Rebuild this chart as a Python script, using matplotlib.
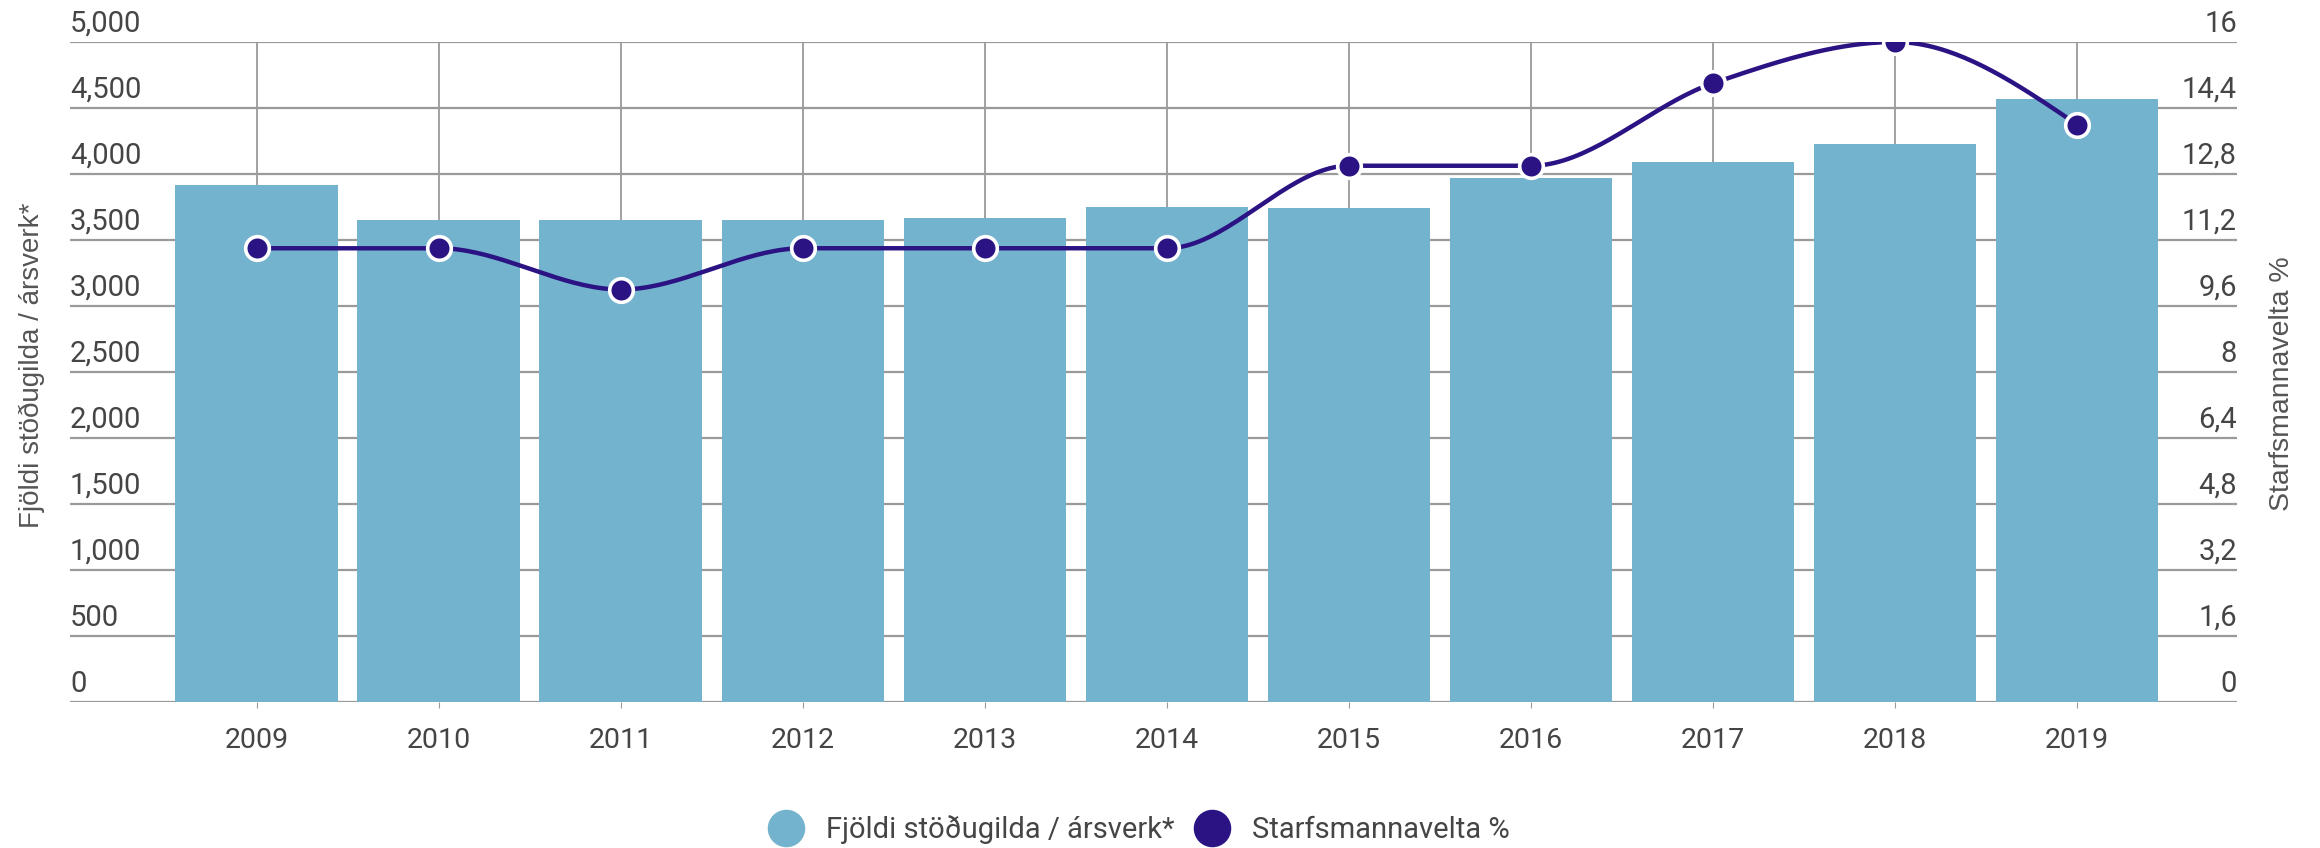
import numpy as np
import matplotlib
matplotlib.use("Agg")
import matplotlib.pyplot as plt
from matplotlib.lines import Line2D
from matplotlib.transforms import blended_transform_factory, offset_copy

# ---- data ----
years = ["2009", "2010", "2011", "2012", "2013", "2014", "2015", "2016", "2017", "2018", "2019"]
stodugildi = [3920, 3650, 3650, 3650, 3670, 3750, 3740, 3970, 4090, 4225, 4570]
starfsmannavelta = [11, 11, 10, 11, 11, 11, 13, 13, 15, 16, 14]
left_ticks = [0, 500, 1000, 1500, 2000, 2500, 3000, 3500, 4000, 4500, 5000]
left_labels = ["0", "500", "1,000", "1,500", "2,000", "2,500", "3,000", "3,500", "4,000", "4,500", "5,000"]
right_ticks = [0, 1.6, 3.2, 4.8, 6.4, 8, 9.6, 11.2, 12.8, 14.4, 16]
right_labels = ["0", "1,6", "3,2", "4,8", "6,4", "8", "9,6", "11,2", "12,8", "14,4", "16"]
left_title = "Fjöldi stöðugilda / ársverk*"
right_title = "Starfsmannavelta %"

BAR_C = "#74B3CD"
LINE_C = "#2B1384"
GRID_C = "#9a9a9a"
TXT_C = "#454545"


def monotone_x(x, y, n=40):
    """d3 curveMonotoneX-style smoothing for drawing the line."""
    x = np.asarray(x, float)
    y = np.asarray(y, float)
    m = len(x)
    h = np.diff(x)
    s = np.diff(y) / h
    t = np.zeros(m)
    for i in range(1, m - 1):
        h0, h1, s0, s1 = h[i - 1], h[i], s[i - 1], s[i]
        p = (s0 * h1 + s1 * h0) / (h0 + h1)
        t[i] = (np.sign(s0) + np.sign(s1)) * min(abs(s0), abs(s1), 0.5 * abs(p))
    t[0] = (3 * s[0] - t[1]) / 2
    t[-1] = (3 * s[-1] - t[-2]) / 2
    xs, ys = [], []
    for i in range(m - 1):
        u = np.linspace(0, 1, n)
        hh = h[i]
        h00 = 2 * u**3 - 3 * u**2 + 1
        h10 = u**3 - 2 * u**2 + u
        h01 = -2 * u**3 + 3 * u**2
        h11 = u**3 - u**2
        xs.append(x[i] + u * hh)
        ys.append(h00 * y[i] + h10 * hh * t[i] + h01 * y[i + 1] + h11 * hh * t[i + 1])
    return np.concatenate(xs), np.concatenate(ys)


fig = plt.figure(figsize=(23.2, 8.48), dpi=100)
ax = fig.add_axes([70 / 2320, 1 - 702 / 848, (2237 - 70) / 2320, (702 - 42) / 848])
ax2 = ax.twinx()

xpos = np.arange(len(years))

# grid
ax.set_ylim(0, 5000)
ax.set_xlim(-1.027, 10.879)
ax2.set_ylim(0, 16)
for v in left_ticks:
    ax.axhline(v, color=GRID_C, lw=1.6, zorder=0)
for xp in xpos:
    ax.axvline(xp, color=GRID_C, lw=1.3, zorder=0)

ax.bar(xpos, stodugildi, width=0.895, color=BAR_C, zorder=2)

# line
cx, cy = monotone_x(xpos, starfsmannavelta)
ax2.plot(cx, cy, color=LINE_C, lw=3.2, zorder=3, solid_capstyle="round")
ax2.plot(xpos, starfsmannavelta, ls="none", marker="o", markersize=17,
         markerfacecolor=LINE_C, markeredgecolor="white", markeredgewidth=2.6, zorder=4)
ax2.set_zorder(ax.get_zorder() + 1)
ax2.patch.set_visible(False)

# spines/ticks
for a in (ax, ax2):
    for sp in a.spines.values():
        sp.set_visible(False)
    a.set_yticks([])
ax.set_xticks(xpos)
ax.set_xticklabels(years, fontsize=20.5, color=TXT_C, family="Roboto")
ax.tick_params(axis="x", length=4, color=GRID_C, pad=14)

# y tick labels drawn above gridlines
trL = offset_copy(blended_transform_factory(ax.transAxes, ax.transData), fig=fig, x=0, y=10, units="dots")
for v, lab in zip(left_ticks, left_labels):
    ax.text(0, v, lab, transform=trL, ha="left", va="baseline", fontsize=21, color=TXT_C, family="Roboto")
trR = offset_copy(blended_transform_factory(ax2.transAxes, ax2.transData), fig=fig, x=0, y=10, units="dots")
for v, lab in zip(right_ticks, right_labels):
    ax2.text(1, v, lab, transform=trR, ha="right", va="baseline", fontsize=21, color=TXT_C, family="Roboto")

fig.text(0.0135, 0.5696, left_title, rotation=90, ha="center", va="center",
         fontsize=20, color="#555555", family="Liberation Sans")
fig.text(0.9836, 0.548, right_title, rotation=90, ha="center", va="center",
         fontsize=20.5, color="#555555", family="Liberation Sans")

handles = [
    Line2D([], [], ls="none", marker="o", markersize=26, markerfacecolor=BAR_C, markeredgecolor=BAR_C),
    Line2D([], [], ls="none", marker="o", markersize=26, markerfacecolor=LINE_C, markeredgecolor=LINE_C),
]
leg = fig.legend(handles, [left_title, right_title], loc="center", bbox_to_anchor=(0.491, 0.022),
                 ncol=2, frameon=False, handletextpad=0.75, columnspacing=0.7, handlelength=1.2,
                 prop={"family": "Roboto", "size": 21})
for t in leg.get_texts():
    t.set_color(TXT_C)

fig.savefig("out.png", dpi=100)
